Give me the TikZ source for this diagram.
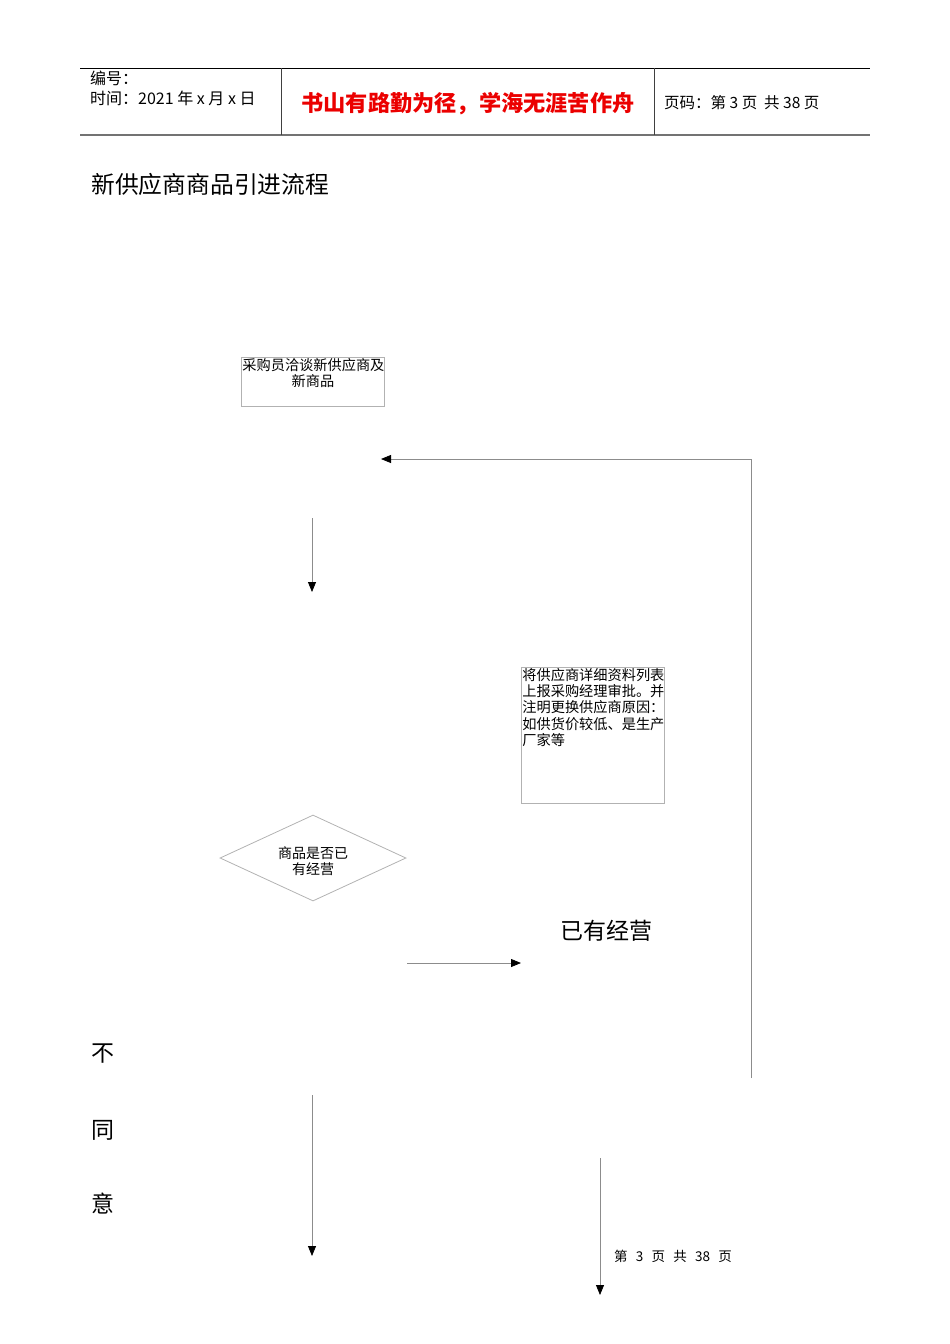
\documentclass[tikz,border=0pt]{standalone}
\usepackage{fontspec}
\setmainfont{Noto Sans CJK SC}
\usepackage{tikz}
\usetikzlibrary{positioning,shapes.geometric,arrows.meta,calc}

\begin{document}
\begin{tikzpicture}[x=1pt,y=-1pt]
  \tikzstyle{box}=[draw=black!30,line width=0.8pt,inner sep=1pt,anchor=north west]
  \tikzstyle{choice}=[diamond,draw=black!30,line width=0.8pt,inner sep=0pt,minimum width=186pt,minimum height=86pt,aspect=2.16]
  \tikzstyle{flow}=[draw=black!45,line width=0.8pt,-{Triangle[length=10pt,width=8pt,black]}]
  \tikzstyle{big}=[font=\fontsize{23}{25}\selectfont,inner sep=0pt]
  \useasboundingbox (0,0) rectangle (950,1344);
  \draw (0,0) node (c){};

  % header
  \draw[line width=0.8pt] (80,68) -- (870,68);
  \draw[black!55,line width=1.4pt] (80,135) -- (870,135);
  \draw[black!75,line width=0.8pt] (281,68) -- (281,135);
  \draw[black!75,line width=0.8pt] (654,68) -- (654,135);
  \node[anchor=north west,inner sep=0pt,align=left,font=\fontsize{16}{19.5}\selectfont] (no) at (90,71) {编号：\\时间：2021 年 x 月 x 日};
  \node[inner sep=0pt,text=red!92!black,font=\fontsize{22.2}{24}\selectfont\bfseries] (motto) at (468,104) {书山有路勤为径，学海无涯苦作舟};
  \node[anchor=west,inner sep=0pt,font=\fontsize{15.5}{18}\selectfont] (page) at (664,103) {页码：第 3 页\ \ 共 38 页};

  \node[big,anchor=west,font=\fontsize{23.8}{25}\selectfont] (title) at (91,184) {新供应商商品引进流程};

  % boxes
  \node[box] (talk) at (241,357) {\parbox[t][47pt][t]{141pt}{\centering\fontsize{14.2}{16.5}\selectfont 采购员洽谈新供应商及\\新商品}};
  \node[box] (report) at (521,667) {\parbox[t][134pt][t]{141pt}{\fontsize{14.2}{16.2}\selectfont 将供应商详细资料列表\\上报采购经理审批。并\\注明更换供应商原因：\\如供货价较低、是生产\\厂家等}};
  \node[choice] (have) at (313,858) {\parbox{80pt}{\vspace*{6pt}\centering\fontsize{14}{16}\selectfont 商品是否已\\有经营}};

  \node[big] (yes) at (606,931) {已有经营};
  \node[big] (n1) at (103,1054) {不};
  \node[big] (n2) at (103,1130) {同};
  \node[big] (n3) at (103,1204) {意};
  \node[inner sep=0pt,font=\fontsize{13.5}{15}\selectfont] (foot) at (673,1256) {第\ \ \,3\ \ \,页\ \ \,共\ \ \,38\ \ \,页};

  % connectors
  \coordinate (r1) at (751,1078);
  \coordinate (r2) at (751,459);
  \coordinate (r3) at (381,459);
  \coordinate (a1) at (312,518);
  \coordinate (a2) at (312,592);
  \coordinate (b1) at (407,963);
  \coordinate (b2) at (521,963);
  \coordinate (d1) at (312,1095);
  \coordinate (d2) at (312,1256);
  \coordinate (e1) at (600,1158);
  \coordinate (e2) at (600,1295);
  \draw[flow] (r1) -- (r2) -- (r3);
  \draw[flow] (a1) -- (a2);
  \draw[flow] (b1) -- (b2);
  \draw[flow] (d1) -- (d2);
  \draw[flow] (e1) -- (e2);
\end{tikzpicture}
\end{document}
